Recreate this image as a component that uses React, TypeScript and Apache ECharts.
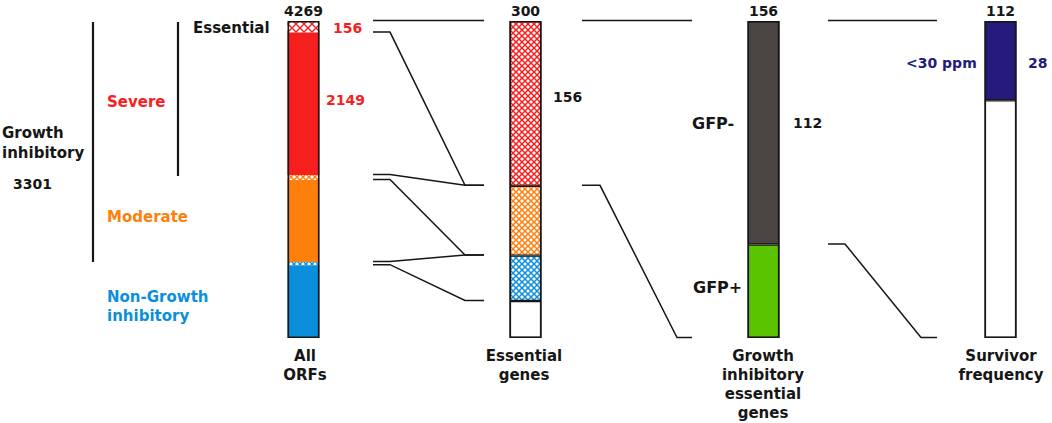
import React, { useEffect, useRef } from "react";
import * as echarts from "echarts";

// ---- data ----
const columnNames = ["All\nORFs", "Essential\ngenes", "Growth\ninhibitory\nessential\ngenes", "Survivor\nfrequency"];

const allOrfCategories = ["Essential (severe)", "Severe", "Essential (moderate)", "Moderate", "Essential (non-growth inhibitory)", "Non-growth inhibitory"];
const allOrfValues = [156, 1918, 67, 1104, 43, 981];

const essentialCategories = ["Severe", "Moderate", "Non-growth inhibitory", "Other"];
const essentialValues = [156, 66, 43, 35];

const giEssentialCategories = ["GFP-", "GFP+"];
const giEssentialValues = [110, 46];

const survivorCategories = ["<30 ppm", ">=30 ppm"];
const survivorValues = [28, 84];

const severeEssentialLabel = "156";
const severeLabel = "2149";
const growthInhibitoryLabel = "3301";
const gfpMinusLabel = "112";
const lowSurvivorLabel = "28";

// ---- styles ----
const FONT = "DejaVu Sans";
const RED = "#f71e1e";
const ORANGE = "#fd7f0c";
const BLUE = "#0b8fdc";
const NAVY = "#241b7c";
const GRAY = "#4a4443";
const GREEN = "#5bc400";
const INK = "#161616";

const barLefts = [287.5, 509.5, 747.5, 984.5];
const barWidth = 32;
const gridTop = 21;
const gridHeight = 317;

function makeHatch(color: string, p: number, lw: number) {
  const c = document.createElement("canvas");
  c.width = p;
  c.height = p;
  const ctx = c.getContext("2d")!;
  ctx.fillStyle = "#ffffff";
  ctx.fillRect(0, 0, p, p);
  ctx.strokeStyle = color;
  ctx.lineWidth = lw;
  ctx.beginPath();
  ctx.moveTo(0, 0);
  ctx.lineTo(p, p);
  ctx.moveTo(p, 0);
  ctx.lineTo(0, p);
  ctx.stroke();
  return { image: c, repeat: "repeat" } as any;
}

function cumulative(vals: number[]) {
  const out = [0];
  vals.forEach((v) => out.push(out[out.length - 1] + v));
  return out;
}
const sum = (a: number[]) => a.reduce((s, v) => s + v, 0);

export default function App() {
  const ref = useRef<HTMLDivElement>(null);

  useEffect(() => {
    if (!ref.current) return;
    const chart = echarts.init(ref.current, undefined, { renderer: "svg" });

    const columns = [
      { names: allOrfCategories, values: allOrfValues, fills: [makeHatch(RED, 8, 1.4), RED, makeHatch(ORANGE, 6, 1.4), ORANGE, makeHatch(BLUE, 6, 1.4), BLUE], seg: 0 },
      { names: essentialCategories, values: essentialValues, fills: [makeHatch(RED, 6, 1.5), makeHatch(ORANGE, 6, 1.5), makeHatch(BLUE, 6, 1.5), "#ffffff"], seg: 1.2 },
      { names: giEssentialCategories, values: giEssentialValues, fills: [GRAY, GREEN], seg: 1.2 },
      { names: survivorCategories, values: survivorValues, fills: [NAVY, "#ffffff"], seg: 1.2 },
    ];

    const grid = columns.map((_, i) => ({ left: barLefts[i], width: barWidth, top: gridTop, height: gridHeight }));
    const xAxis = columns.map((_, i) => ({ type: "category", gridIndex: i, data: [columnNames[i]], show: false }));
    const yAxis = columns.map((c, i) => ({ type: "value", gridIndex: i, min: 0, max: sum(c.values), inverse: true, show: false }));

    const series: any[] = [];
    columns.forEach((c, i) => {
      c.values.forEach((v, j) => {
        series.push({
          type: "bar",
          name: c.names[j],
          xAxisIndex: i,
          yAxisIndex: i,
          stack: "col" + i,
          data: [v],
          barWidth: "100%",
          silent: true,
          itemStyle: { color: c.fills[j], borderColor: INK, borderWidth: c.seg },
        });
      });
      series.push({
        type: "bar",
        name: "outline" + i,
        xAxisIndex: i,
        yAxisIndex: i,
        data: [sum(c.values)],
        barWidth: "100%",
        barGap: "-100%",
        silent: true,
        z: 5,
        itemStyle: { color: "rgba(0,0,0,0)", borderColor: INK, borderWidth: 1.6 },
      });
    });

    chart.setOption({
      animation: false,
      backgroundColor: "#ffffff",
      grid,
      xAxis,
      yAxis,
      series,
    } as any);

    const yOf = (col: number, v: number) => (chart.convertToPixel({ gridIndex: col } as any, [0, v]) as number[])[1];

    const c1 = cumulative(allOrfValues);
    const c2 = cumulative(essentialValues);
    const c3 = cumulative(giEssentialValues);
    const c4 = cumulative(survivorValues);

    const lineStyle = { stroke: INK, lineWidth: 1.5, fill: "none" };
    const connector = (xs: number[], colA: number, vA: number, colB: number, vB: number) => {
      const ya = yOf(colA, vA) - 0.5;
      const yb = yOf(colB, vB) - 0.5;
      return {
        type: "polyline",
        silent: true,
        shape: { points: [[xs[0], ya], [xs[1], ya], [xs[2], yb], [xs[3], yb]] },
        style: lineStyle,
      };
    };
    const x12 = [373, 390, 465, 484];
    const x23 = [582, 600, 677, 692];
    const x34 = [828, 845, 921, 937];
    const connectors = [
      connector(x12, 0, c1[0], 1, c2[0]),
      connector(x12, 0, c1[1], 1, c2[1]),
      connector(x12, 0, c1[2], 1, c2[1]),
      connector(x12, 0, c1[3], 1, c2[2]),
      connector(x12, 0, c1[4], 1, c2[2]),
      connector(x12, 0, c1[5], 1, c2[3]),
      connector(x23, 1, c2[0], 2, c3[0]),
      connector(x23, 1, c2[1], 2, c3[2]),
      connector(x34, 2, c3[0], 3, c4[0]),
      connector(x34, 2, c3[1], 3, c4[2]),
    ];

    const brackets = [
      { type: "line", silent: true, shape: { x1: 93, y1: yOf(0, 0) + 1, x2: 93, y2: yOf(0, c1[4]) }, style: { stroke: INK, lineWidth: 2.2 } },
      { type: "line", silent: true, shape: { x1: 178, y1: yOf(0, 0) + 1, x2: 178, y2: yOf(0, c1[2]) + 1 }, style: { stroke: INK, lineWidth: 2.2 } },
    ];

    const txt = (text: string, x: number, y: number, opts: any = {}) => ({
      type: "text",
      silent: true,
      x,
      y,
      style: {
        text,
        fill: opts.color || INK,
        font: `bold ${opts.size || 15}px "${FONT}"`,
        textAlign: opts.align || "left",
        textVerticalAlign: opts.valign || "middle",
        lineHeight: opts.lh || 19,
      },
    });

    const centers = barLefts.map((l) => l + barWidth / 2);
    const totals = columns.map((c) => String(sum(c.values)));

    const texts = [
      txt("Essential", 193, 28),
      txt("Severe", 107, 102, { color: RED }),
      txt("Growth\ninhibitory", 2, 143, { lh: 20 }),
      txt(growthInhibitoryLabel, 13, 184, { size: 14 }),
      txt("Moderate", 107, 217, { color: ORANGE }),
      txt("Non-Growth\ninhibitory", 107, 306, { color: BLUE }),
      txt(severeEssentialLabel, 333, 28, { color: RED, size: 14 }),
      txt(severeLabel, 326, 100, { color: RED, size: 14 }),
      txt(String(essentialValues[0]), 553, 97, { size: 14 }),
      txt(giEssentialCategories[0], 692, 123, { size: 16 }),
      txt(gfpMinusLabel, 793, 123, { size: 14 }),
      txt(giEssentialCategories[1], 693, 287, { size: 16 }),
      txt(survivorCategories[0], 906, 63, { color: NAVY, size: 14 }),
      txt(lowSurvivorLabel, 1028, 63, { color: NAVY, size: 14 }),
      ...totals.map((t, i) => txt(t, centers[i], 11, { align: "center", size: 14 })),
      ...columnNames.map((n, i) => txt(n, [305, 524, 763, 1001][i], 346, { align: "center", valign: "top", lh: 19 })),
    ];

    chart.setOption({ graphic: [...connectors, ...brackets, ...texts] } as any);

    return () => chart.dispose();
  }, []);

  return <div ref={ref} style={{ position: "absolute", left: 0, top: 0, width: 1052, height: 423 }} />;
}
